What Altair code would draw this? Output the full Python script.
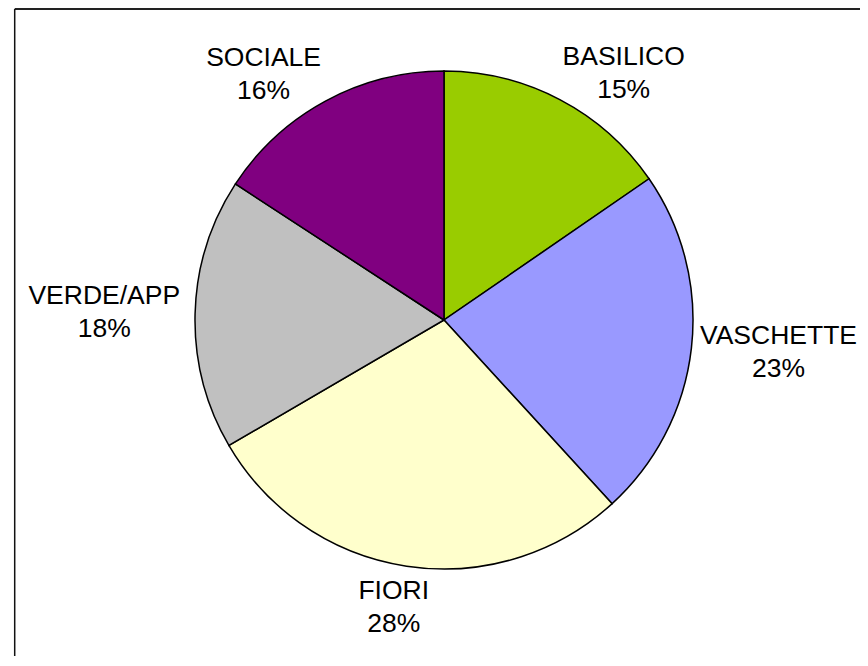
import altair as alt
import pandas as pd

categories = ["BASILICO", "VASCHETTE", "FIORI", "VERDE/APP", "SOCIALE"]
values = [15.4, 22.8, 28.4, 17.6, 15.8]
pct_labels = ["15%", "23%", "28%", "18%", "16%"]
colors = ["#99CC00", "#9999FF", "#FFFFCC", "#C0C0C0", "#800080"]

FS = 26.5
LH = 33
# Arial / Liberation Sans advance widths (per 1000 em)
ARIAL = {'A': 667, 'B': 667, 'C': 722, 'D': 722, 'E': 667, 'F': 611, 'H': 722,
         'I': 278, 'L': 556, 'O': 778, 'P': 667, 'R': 722, 'S': 667, 'T': 611,
         'V': 667, '/': 278, '%': 889}
for d in "0123456789":
    ARIAL[d] = 556


def text_w(s):
    return sum(ARIAL.get(ch, 600) for ch in s) * FS / 1000.0


half_w = [max(text_w(c), text_w(p)) / 2 for c, p in zip(categories, pct_labels)]

df = pd.DataFrame({
    "cat": categories,
    "value": values,
    "pct": pct_labels,
    "order": list(range(len(categories))),
    "hw": half_w,
    "label": [f"{c}\n{p}" for c, p in zip(categories, pct_labels)],
})

W, H = 852, 648
CX, CY = 436, 312
R = 249
LR = 264
HH = 27

base = alt.Chart(df)

pie = base.mark_arc(outerRadius=R, stroke="black", strokeWidth=1.5).encode(
    theta=alt.Theta("value:Q", stack=True),
    color=alt.Color("cat:N", scale=alt.Scale(domain=categories, range=colors), legend=None),
    order=alt.Order("order:Q"),
    x=alt.value(CX),
    y=alt.value(CY),
)

labels = base.transform_joinaggregate(
    total="sum(value)"
).transform_window(
    cum="sum(value)", sort=[alt.SortField("order")]
).transform_calculate(
    mid="(datum.cum - datum.value/2) / datum.total * 2 * PI"
).transform_calculate(
    s="sin(datum.mid)", c="cos(datum.mid)"
).transform_calculate(
    lx0=f"{CX} + {LR}*datum.s + datum.hw*clamp(2*datum.s, -1, 1)",
    ly=f"{CY} - {LR}*datum.c - {HH}*datum.c*(datum.c > 0 ? 0.55 : 1) - {LH}/2",
).transform_calculate(
    lx=f"min(datum.lx0, {W} - datum.hw - 2)"
).mark_text(
    font="Liberation Sans", fontSize=FS, lineHeight=LH, lineBreak="\n",
    align="center", baseline="middle", color="black",
).encode(
    x=alt.X("lx:Q", scale=None, axis=None),
    y=alt.Y("ly:Q", scale=None, axis=None),
    text="label:N",
)

frame_top = alt.Chart(pd.DataFrame({"k": [0]})).mark_rule(color="#222222", strokeWidth=2).encode(
    x=alt.value(6.7), x2=alt.value(W), y=alt.value(1)
)
frame_left = alt.Chart(pd.DataFrame({"k": [0]})).mark_rule(color="#111111", strokeWidth=1.5).encode(
    x=alt.value(6.7), y=alt.value(1), y2=alt.value(H)
)

chart = alt.layer(frame_top, frame_left, pie, labels).properties(
    width=W, height=H, padding=0, autosize=alt.AutoSizeParams(type="none"),
    background="white",
).configure_view(stroke=None)

chart.save("out.html", embed_options={"renderer": "svg", "actions": False})
